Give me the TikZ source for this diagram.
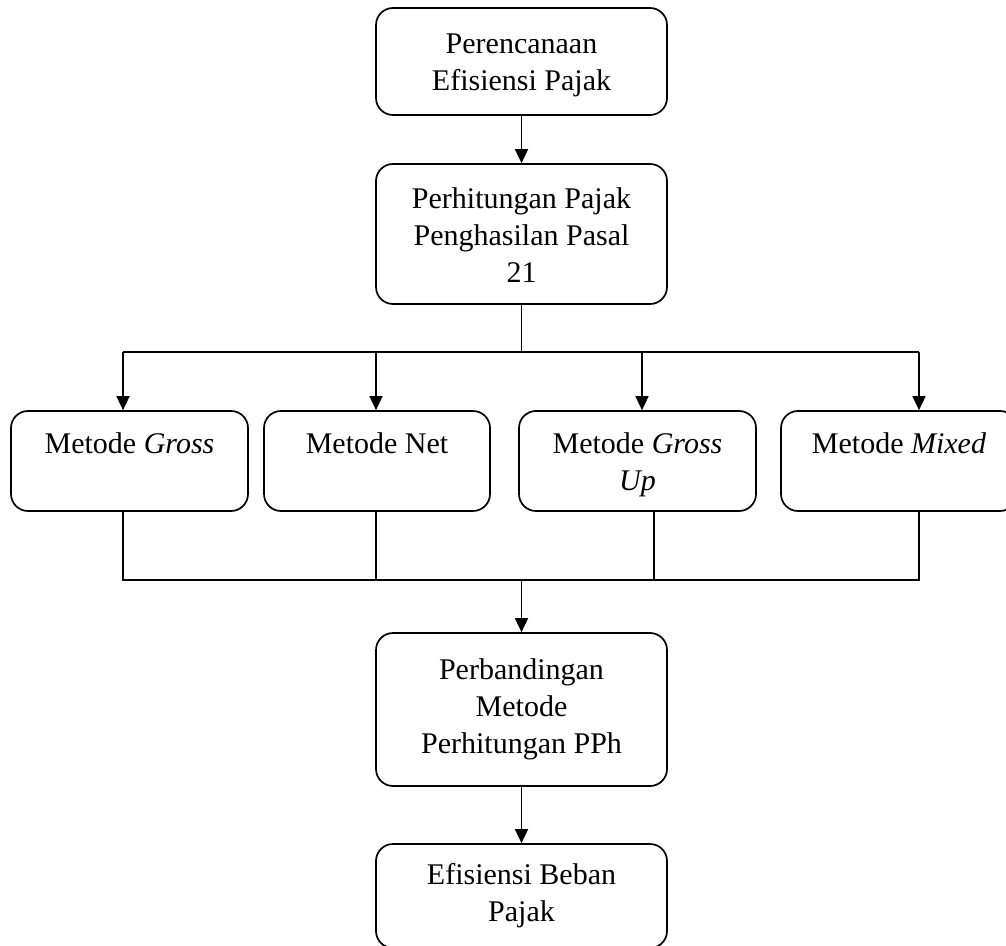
\documentclass[tikz,border=0pt]{standalone}
\usepackage{fontspec}
\setmainfont{Liberation Serif}
\usetikzlibrary{arrows.meta}
\begin{document}
\begin{tikzpicture}[x=0.5pt,y=-0.5pt,
  frame/.style={draw, line width=0.85pt, rounded corners=8.5pt, inner sep=0pt},
  txt/.style={inner sep=0pt, align=center, font=\fontsize{15}{18.5}\selectfont},
  conn/.style={line width=0.8pt},
  arr/.style={line width=0.8pt, -{Triangle[length=7pt,width=6.5pt]}}]
\useasboundingbox (0,0) rectangle (1006,946);
\begin{scope}
\clip (0,0) rectangle (1006,946);
% frames
\node[frame, minimum width=145.5pt, minimum height=53.5pt] (b1) at (521.5,61.5) {};
\node[frame, minimum width=145.5pt, minimum height=70pt] (b2) at (521.5,234) {};
\node[frame, minimum width=118.5pt, minimum height=50pt] (mA) at (129.5,461) {};
\node[frame, minimum width=113pt, minimum height=50pt] (mB) at (377,461) {};
\node[frame, minimum width=118.5pt, minimum height=50pt] (mC) at (637.5,461) {};
\node[frame, minimum width=118pt, minimum height=50pt] (mD) at (899,461) {};
\node[frame, minimum width=145.5pt, minimum height=76.5pt] (b3) at (521.5,709.5) {};
\node[frame, minimum width=145.5pt, minimum height=52pt] (b4) at (521.5,896) {};
% texts
\node[txt] (b1t) at (521.5,65) {Perencanaan\\Efisiensi Pajak};
\node[txt] (b2t) at (521.5,235.5) {Perhitungan Pajak\\Penghasilan Pasal\\21};
\node[txt] (mAt) at (129.5,465) {Metode \textit{Gross}\\\vphantom{\textit{Up}}};
\node[txt] (mBt) at (377,465) {Metode Net\\\vphantom{\textit{Up}}};
\node[txt] (mCt) at (637.5,465) {Metode \textit{Gross}\\\textit{Up}};
\node[txt] (mDt) at (899,465) {Metode \textit{Mixed}\\\vphantom{\textit{Up}}};
\node[txt] (b3t) at (521.5,709.5) {Perbandingan\\Metode\\Perhitungan PPh};
\node[txt] (b4t) at (521.5,896) {Efisiensi Beban\\Pajak};
\end{scope}
% top connectors
\draw[arr] (b1.south) -- (b2.north);
\coordinate (split) at (521.5,352);
\coordinate (tA) at (123,352);
\coordinate (tB) at (376,352);
\coordinate (tC) at (642,352);
\coordinate (tD) at (919,352);
\draw[conn] (b2.south) -- (split);
\draw[conn] (tA) -- (tD);
\draw[arr] (tA) -- (tA |- mA.north);
\draw[arr] (tB) -- (tB |- mB.north);
\draw[arr] (tC) -- (tC |- mC.north);
\draw[arr] (tD) -- (tD |- mD.north);
% bottom connectors
\coordinate (uA) at (123,580);
\coordinate (uB) at (376,580);
\coordinate (uC) at (654,580);
\coordinate (uD) at (919,580);
\coordinate (join) at (521.5,580);
\draw[conn] (uA |- mA.south) -- (uA) -- (uD) -- (uD |- mD.south);
\draw[conn] (uB |- mB.south) -- (uB);
\draw[conn] (uC |- mC.south) -- (uC);
\draw[arr] (join) -- (b3.north);
\draw[arr] (b3.south) -- (b4.north);
\end{tikzpicture}
\end{document}
